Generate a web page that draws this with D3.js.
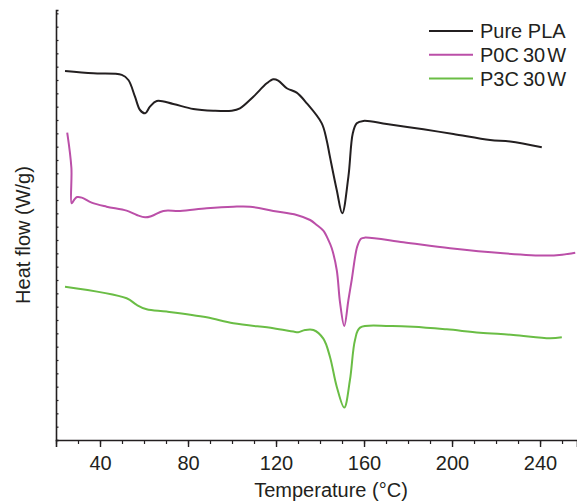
<!DOCTYPE html>
<html>
<head>
<meta charset="utf-8">
<script src="https://cdn.jsdelivr.net/npm/d3@7"></script>
<style>
  html, body { margin: 0; padding: 0; background: #fff; }
  svg { display: block; }
  text { font-family: "Liberation Sans", Arial, Helvetica, sans-serif; fill: #231f20; }
</style>
</head>
<body>
<svg id="chart" width="577" height="503"></svg>
<script>
// DSC heating curves: temperature (°C) vs heat flow (W/g, arbitrary offset)
const seriesNames = ["Pure PLA", "P0C30W", "P3C30W"];
const seriesColors = ["#231f20", "#bb4fa8", "#6abd45"];

const pureT  = [24.1, 37.0, 49.9, 52.9, 55.9, 58.2, 60.5, 62.7, 65.8, 73.3, 82.4, 91.5, 99.9, 103.6, 109.7, 115.8, 118.8, 121.0, 124.9, 129.4, 134.0, 140.8, 143.0, 144.5, 147.6, 150.1, 152.9, 154.9, 156.7, 159.7, 170.3, 187.0, 200.6, 217.3, 226.4, 240.8];
const pureHF = [2.768, 2.750, 2.738, 2.700, 2.575, 2.475, 2.450, 2.500, 2.543, 2.520, 2.483, 2.470, 2.470, 2.488, 2.575, 2.675, 2.705, 2.695, 2.638, 2.605, 2.525, 2.375, 2.250, 2.125, 1.875, 1.700, 1.975, 2.300, 2.375, 2.393, 2.370, 2.330, 2.295, 2.250, 2.238, 2.195];

const p0T  = [25.1, 27.0, 27.1, 28.2, 29.6, 31.7, 36.2, 43.0, 52.1, 56.7, 60.5, 63.5, 68.8, 76.4, 88.5, 100.6, 108.2, 118.8, 129.4, 135.5, 138.5, 141.5, 143.8, 145.3, 147.6, 149.1, 151.0, 152.9, 154.4, 156.9, 158.6, 160.5, 177.9, 199.1, 223.3, 243.0, 250.0, 256.0];
const p0HF = [2.305, 2.040, 1.775, 1.800, 1.822, 1.818, 1.780, 1.750, 1.720, 1.688, 1.670, 1.680, 1.718, 1.718, 1.738, 1.750, 1.750, 1.718, 1.688, 1.650, 1.613, 1.570, 1.500, 1.440, 1.275, 1.030, 0.855, 1.050, 1.200, 1.450, 1.510, 1.518, 1.483, 1.438, 1.400, 1.383, 1.390, 1.405];

const p3T  = [24.1, 52.1, 56.7, 61.2, 70.3, 88.5, 100.6, 118.8, 127.9, 130.1, 133.2, 137.0, 141.5, 144.5, 147.6, 151.0, 153.6, 155.9, 158.2, 171.8, 182.4, 197.6, 212.7, 227.9, 244.5, 249.9];
const p3HF = [1.150, 1.063, 1.013, 0.980, 0.963, 0.920, 0.875, 0.838, 0.813, 0.808, 0.825, 0.825, 0.760, 0.625, 0.400, 0.243, 0.450, 0.750, 0.843, 0.855, 0.850, 0.830, 0.805, 0.788, 0.763, 0.770];

const xTicksMajor = [40, 80, 120, 160, 200, 240];

const allT = [pureT, p0T, p3T];
const allHF = [pureHF, p0HF, p3HF];

const svg = d3.select("#chart");
const ink = "#231f20";

const x = d3.scaleLinear().domain([20, 256.8]).range([56, 577]);
const y = d3.scaleLinear().domain([0, 3.225]).range([440, 10]);

// x axis: minor ticks every 10 °C, labelled majors every 40 °C
const xMinor = d3.range(20, 257, 10);
svg.append("g")
  .attr("transform", "translate(0,440)")
  .call(d3.axisBottom(x).tickValues(xMinor).tickSize(4).tickFormat(""))
  .call(g => g.select(".domain").remove())
  .call(g => g.selectAll("line").attr("stroke", ink).attr("stroke-width", 1.2));

svg.append("g")
  .attr("transform", "translate(0,440)")
  .call(d3.axisBottom(x).tickValues(xTicksMajor).tickSize(7).tickPadding(9).tickFormat(d3.format("d")))
  .call(g => g.select(".domain").attr("stroke", ink).attr("stroke-width", 1.6))
  .call(g => g.selectAll("line").attr("stroke", ink).attr("stroke-width", 1.4))
  .call(g => g.selectAll("text").attr("font-size", 20).attr("fill", ink)
    .style("font-family", "'Liberation Sans', Arial, sans-serif"));

// y axis: unlabelled, small inward ticks
svg.append("g")
  .attr("transform", "translate(56,0)")
  .call(d3.axisLeft(y).tickValues(d3.range(0, 3.25, 0.1)).tickSize(-2.5).tickFormat(""))
  .call(g => g.select(".domain").attr("stroke", ink).attr("stroke-width", 1.6))
  .call(g => g.selectAll("line").attr("stroke", ink).attr("stroke-width", 1.2));

// curves
const line = d3.line()
  .x(d => x(d[0]))
  .y(d => y(d[1]))
  .curve(d3.curveCatmullRom.alpha(0.5));

allT.forEach((ts, i) => {
  const pts = ts.map((t, j) => [t, allHF[i][j]]);
  svg.append("path")
    .datum(pts)
    .attr("fill", "none")
    .attr("stroke", seriesColors[i])
    .attr("stroke-width", 2)
    .attr("stroke-linejoin", "round")
    .attr("d", line);
});

// legend; sample names are set with a little extra gap between their parts
const nameParts = name => {
  const m = name.match(/^(P\dC)(\d+)(W)$/);
  return m ? [[m[1], 0], [m[2], 4], [m[3], 2]] : [[name, 0]];
};
const legend = svg.append("g").attr("transform", "translate(429,31)");
seriesNames.forEach((name, i) => {
  const row = legend.append("g").attr("transform", `translate(0,${i * 23.8})`);
  row.append("line").attr("x1", 0).attr("x2", 44).attr("y1", 0).attr("y2", 0)
    .attr("stroke", seriesColors[i]).attr("stroke-width", 2);
  const t = row.append("text").attr("x", 51).attr("y", 7).attr("font-size", 20);
  nameParts(name).forEach(([s, dx]) => t.append("tspan").attr("dx", dx).text(s));
});

// axis titles
svg.append("text")
  .attr("x", 331).attr("y", 497)
  .attr("text-anchor", "middle")
  .attr("font-size", 20)
  .text("Temperature (°C)");

svg.append("text")
  .attr("transform", "translate(30,235) rotate(-90)")
  .attr("text-anchor", "middle")
  .attr("font-size", 20)
  .text("Heat flow (W/g)");
</script>
</body>
</html>
